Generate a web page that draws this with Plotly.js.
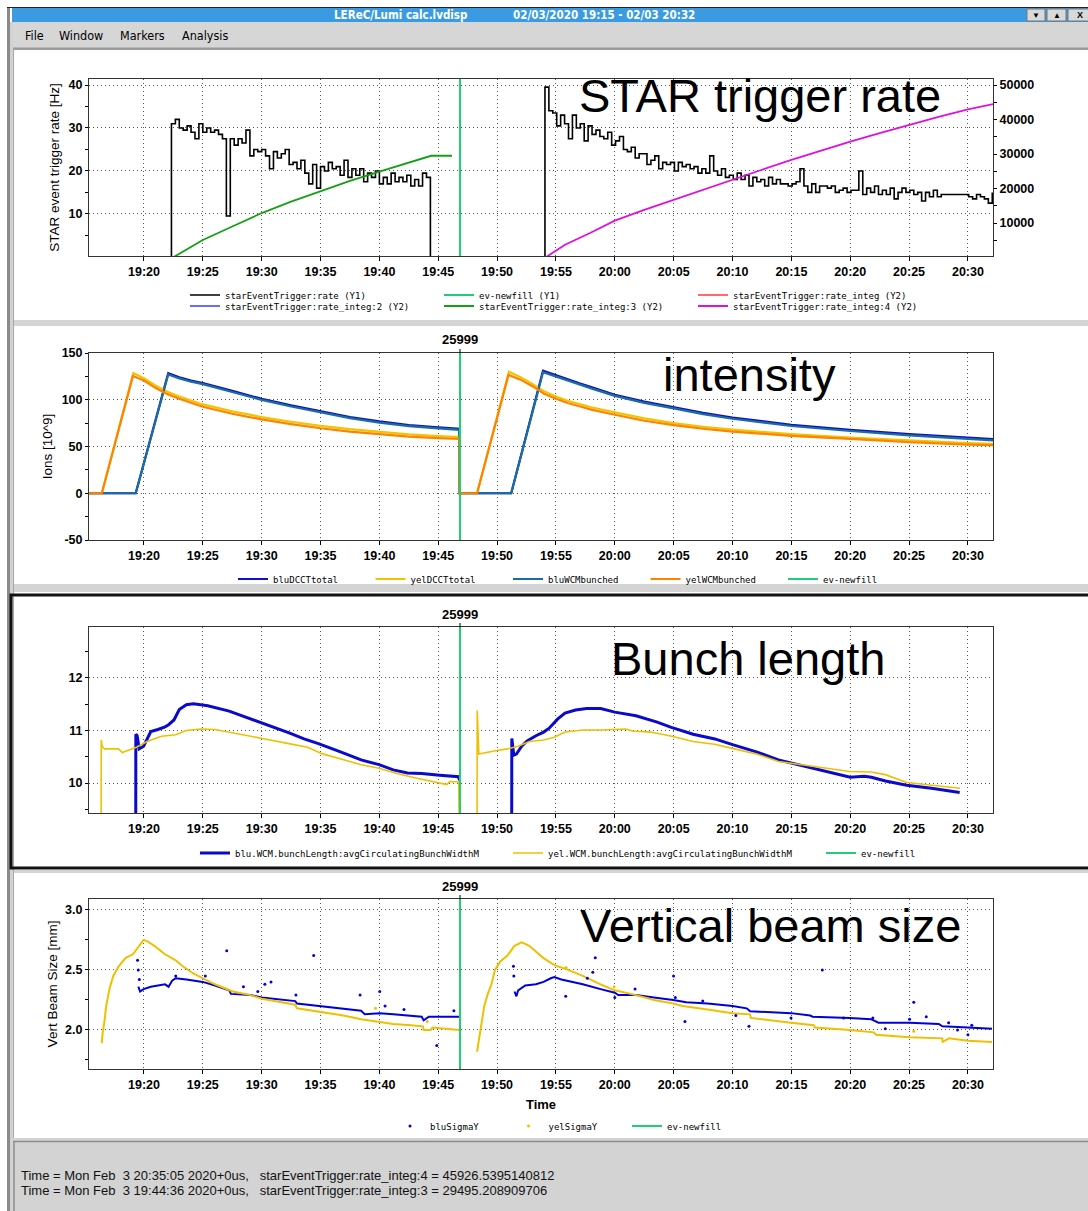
<!DOCTYPE html>
<html><head><meta charset="utf-8">
<script src="https://cdn.plot.ly/plotly-3.0.1.min.js"></script>
<style>html,body{margin:0;padding:0;background:#fff;overflow:hidden}#chart{width:1088px;height:1211px}</style>
</head><body><div id="chart"></div>
<script>
// ===== DATA (times are minutes after 2020-02-03 19:00) =====
const newfillTime = 46.85;
const newfillLabel = '25999';

// STAR trigger rate, sampled every 20 s
const rateStepMin = 1 / 3;
const rate1Start = 22.0;
const rate1Vals = [0,31,32,30,29.5,30.5,29,27.5,31,29,
  30,29,29.5,28.5,27.5,9.5,27.5,26,27.5,26.5,
  29.5,23.5,25,24.5,25,23.5,20.5,24.5,23,24,
  25,21.5,22,20.5,22.5,19.5,17,21.5,16,21,
  20,22,20.5,21,19,22.5,18.5,20.5,19,20.5,
  17.5,19.5,18.5,20,17,18.5,17,19.5,17.5,18.5,
  17.5,19,16.5,18,16.5,19.5,18.5,0,0];
const rate2Start = 53.733;
const rate2Vals = [0,39.5,34,33.5,30.5,33,31,27.5,33,30,
  31,27,30.5,28.5,29.5,28,27.5,29,26,27,
  28,25,24.5,25.5,23,24,24,21.5,22.5,23.5,
  20.5,22,21.5,22,20,22,21,21.5,20.5,21,
  19.5,20.5,19.5,23.5,20,19,20.5,18.5,19,18,
  19.5,18,19,16.5,18.5,17.5,18,16.5,18.5,17,
  18,17,17,16.5,17,17.5,20.5,16.5,15,17,
  15,16.5,16.5,16,16.5,15,15.5,16,15,15.5,
  15.5,20,14.5,16,15,16.5,14.5,15.5,14.5,16,
  13.5,15,16,15,15.5,14.5,15,13,15,14,
  15.5,14,14.5,14.5,14.5,14.5,14.5,14.5,14.5,14,
  13.5,14.5,14,13.5,12.5,15];

// integrated rates (Y2); rate_integ and rate_integ:2 have no samples in this window
const integ3T = [22.45,23.5,25,27.5,30,32.5,35,37.5,40,42.5,44.4,46.17];
const integ3V = [0,2000,5100,9000,12900,16200,19200,22200,24900,27600,29495,29495];
const integ4T = [54.1,55.77,57.9,60,62.5,65,67.5,70,72.5,75,77.5,80,82.5,85,87.5,90,92.13];
const integ4V = [0,3700,7100,10700,13800,16750,19700,22500,25450,28300,31000,33600,36050,38450,40750,42950,44450];
const integEmptyT = [0];
const integEmptyV = [0];

// intensity [10^9]
const bluT = [15.33,19.3,22.06,23,24,25,27.5,30,32.5,35,37.5,40,42.5,45,46.8,46.8,51.2,53.9,55,56,57,58,60,62.5,65,67.5,70,75,80,85,90,92.13];
const bluDCCT = [0,0,128.5,124,120.5,117.9,109.5,101,94,87.5,81.5,76.8,73,70.5,69,0,0,131,126,121.5,117.5,113.5,105.4,98,92,86,81,73.2,67.9,63.2,59.5,57.9];
const bluWCM = [0,0,127,122.8,119.3,116.7,108.3,99.8,92.8,86.3,80.3,75.6,71.8,69.3,67.8,0,0,129.5,124.7,120.2,116.2,112.2,104.1,96.7,90.7,84.7,79.7,71.9,66.6,61.9,58.2,56.6];
const yelDCCTT = [15.33,16.42,19.1,20,21,22,23,24,25,27.5,30,32.5,35,37.5,40,42.5,45,46.8,46.8,48.3,51.0,52,53,54,55,56,57,58,60,62.5,65,67.5,70,75,80,85,90,92.13];
const yelDCCT = [0,0,128.5,123,115,108.5,103.5,99,95,87.5,81.5,76.5,72,68.5,65.5,63,61,60,0,0,130,124,117,109,103.5,99,95.5,92,86.5,80,75,71,68,63.2,59.6,56.4,53.6,52.9];
const yelWCMT = [15.33,16.42,19.06,20,21,22,23,24,25,27.5,30,32.5,35,37.5,40,42.5,45,46.8,46.8,48.3,50.97,52,53,54,55,56,57,58,60,62.5,65,67.5,70,75,80,85,90,92.13];
const yelWCM = [0,0,125.5,120.5,112.5,106,101,96.5,92.5,85,79,74,69.5,66,63,60.5,59,58,0,0,126.5,121.5,114.5,106.5,101,96.5,93,89.5,84,77.5,72.9,69,66,61.4,58.2,54.6,52,51.4];

// bunch length
const bluBLT = [19.3,19.31,19.42,19.6,19.97,20.58,21.18,21.79,22.09,22.55,23.0,23.6,24.2,25.42,27.24,28.45,29.67,30.88,32.39,33.6,34.82,36.64,38.45,39.97,41.18,42.39,43.6,45.12,46.73,46.8,48,51.24,51.25,51.42,51.64,52.09,52.55,53.3,53.95,54.4,55.16,55.77,56.67,57.6,58.8,60,61.8,63.6,64.8,66.65,68.5,70,72.1,73.9,75.7,77.8,80,81.2,81.8,83,84.8,86.9,89.3];
const bluBLV = [9.0,10.93,10.9,10.65,10.7,10.98,11.02,11.07,11.11,11.2,11.4,11.49,11.51,11.47,11.37,11.27,11.17,11.08,10.95,10.84,10.75,10.6,10.44,10.35,10.25,10.19,10.18,10.15,10.12,10.05,null,9.0,10.85,10.53,10.55,10.7,10.8,10.9,10.97,11.04,11.22,11.33,11.39,11.42,11.42,11.35,11.28,11.16,11.06,10.93,10.84,10.73,10.59,10.44,10.34,10.22,10.11,10.13,10.11,10.04,9.96,9.9,9.82];
const yelBLT = [16.36,16.37,16.45,16.64,17.85,18.15,19.36,20.27,21.48,22.7,23.6,24.82,26.03,27.55,29.06,30.27,32.09,33.9,35.12,36.94,38.45,39.97,41.48,43.0,44.52,45.73,45.97,46.73,46.8,47.5,48.3,48.31,48.45,49.06,49.97,50.88,51.79,52.74,53.95,54.86,55.77,57.28,58.79,60.91,61.5,63.02,64.84,66.65,68.47,69.98,72.1,73.91,75.72,77.84,79.96,81.77,82.98,84.8,86.91,89.33];
const yelBLV = [9.0,10.82,10.7,10.65,10.65,10.58,10.68,10.79,10.89,10.92,11.0,11.03,11.02,10.96,10.89,10.84,10.76,10.68,10.56,10.44,10.35,10.28,10.18,10.1,10.02,9.97,10.03,10.02,9.0,null,9.0,11.38,10.55,10.58,10.62,10.65,10.7,10.79,10.82,10.87,10.97,11.01,11.01,11.03,10.99,10.97,10.89,10.79,10.74,10.66,10.55,10.41,10.35,10.28,10.22,10.21,10.16,10.01,9.96,9.9];

// vertical beam size [mm]
const yelSigT = [16.42,16.48,16.64,16.79,17.09,17.39,17.85,18.45,19.06,19.36,19.67,19.97,20.27,20.88,21.79,22.7,23.3,24.2,25.0,26.03,27.55,29.06,30.0,32.09,32.85,33.0,35.03,36.94,38.45,40.03,41.18,42.7,43.7,43.76,44.36,44.52,46.79,47.5,48.3,48.45,48.6,48.76,48.91,49.21,49.52,49.82,50.27,50.88,51.48,52.09,52.74,53.91,54.86,55.77,57.28,58.79,60,61.81,63.32,64.97,65.76,67.88,70,71.5,71.55,74.97,76.9,77.0,79.96,82.0,82.2,85.04,87.83,87.85,88.4,90.0,92.05];
const yelSigV = [1.89,1.97,2.07,2.2,2.35,2.45,2.53,2.6,2.63,2.67,2.72,2.75,2.74,2.7,2.63,2.58,2.53,2.47,2.43,2.38,2.32,2.29,2.26,2.22,2.21,2.18,2.15,2.12,2.09,2.07,2.05,2.04,2.03,2.0,2.0,2.02,2.0,null,1.82,1.92,2.0,2.1,2.2,2.3,2.38,2.5,2.57,2.62,2.7,2.73,2.7,2.6,2.54,2.51,2.45,2.38,2.33,2.29,2.25,2.22,2.2,2.17,2.14,2.13,2.1,2.06,2.04,2.02,2.0,1.98,1.96,1.94,1.93,1.9,1.93,1.91,1.9];
const bluSigT = [19.52,19.67,19.97,20.58,21.79,22.09,22.39,22.7,23.6,25.0,26.03,27.24,27.39,29.06,30.0,32.09,32.85,33.0,35.03,36.94,38.45,38.76,40.03,41.18,42.7,43.6,43.76,44.2,46.79,49,51.48,51.64,51.79,52.39,53.3,53.95,54.56,54.86,55.46,57.28,58.79,60,60.3,61.81,63.32,64.97,66.06,67.88,70,71.2,71.5,74.97,76.6,76.8,79.96,81.77,82.4,85.04,87.52,87.83,90.0,92.05];
const bluSigV = [2.36,2.32,2.34,2.36,2.38,2.36,2.41,2.43,2.42,2.4,2.37,2.33,2.3,2.29,2.27,2.25,2.24,2.22,2.2,2.18,2.16,2.13,2.14,2.13,2.12,2.11,2.08,2.11,2.11,null,2.32,2.28,2.33,2.37,2.38,2.4,2.43,2.44,2.42,2.38,2.34,2.31,2.29,2.29,2.27,2.25,2.23,2.22,2.2,2.18,2.155,2.14,2.12,2.11,2.1,2.09,2.06,2.06,2.05,2.03,2.02,2.01];
const bluOutT = [19.455,19.515,19.606,22.70,25.21,27.03,28.45,29.67,30.27,30.79,32.91,34.42,38.36,40.03,40.48,42.09,44.88,46.33,51.39,51.42,55.83,57.67,58.13,58.34,60.0,61.72,64.99,65.14,65.96,67.47,70.28,71.4,74.97,77.63,79.44,81.92,82.98,85.04,85.4,86.46,88.36,89.12,90.0,90.33];
const bluOutV = [2.58,2.5,2.42,2.45,2.45,2.66,2.36,2.32,2.38,2.4,2.29,2.62,2.29,2.32,2.2,2.17,1.87,2.16,2.53,2.45,2.28,2.43,2.48,2.6,2.27,2.34,2.45,2.27,2.07,2.24,2.12,2.03,2.1,2.5,2.1,2.1,2.01,2.09,2.23,2.11,2.06,2.0,1.96,2.04];
const yelOutT = [39.67,44.06,55.86,59.94,85.4];
const yelOutV = [2.18,2.07,2.52,2.36,1.99];

// tick labels of the intensity axis
const ionTickVals = [-50,0,50,100,150];
const ionTickText = ['-50','0','50','100','150'];

// ===== helpers =====
const T0 = Date.UTC(2020, 1, 3, 19, 0, 0);
const tm = m => T0 + m * 60000;
const W = 1088, H = 1211;
const px = x => x / W, py = y => 1 - y / H;
const stepTimes = (start, n) => Array.from({length:n}, (_, i) => tm(start + i * rateStepMin));

const y1Range = [0.2, 41.4], y2Range = [450, 51740], ionRange = [-50, 150], blRange = [9.43, 12.97], sigRange = [1.675, 3.09];
const xRange = [tm(15.33), tm(92.13)];
const NF = '#1fcf74';
const SANS = 'Liberation Sans, Arial, sans-serif';
const MONO = 'DejaVu Sans Mono, Liberation Mono, monospace';

const rateX = stepTimes(rate1Start, rate1Vals.length).concat([tm(50)], stepTimes(rate2Start, rate2Vals.length));
const rateY = rate1Vals.concat([null], rate2Vals);
const nfx = [tm(newfillTime), tm(newfillTime)];

const traces = [
  // panel 1
  {x: rateX, y: rateY, mode:'lines', line:{shape:'hv', color:'#000', width:1.6}, name:'starEventTrigger:rate (Y1)', legend:'legend', xaxis:'x', yaxis:'y'},
  {x: nfx, y: y1Range, mode:'lines', line:{color:NF, width:2}, name:'ev-newfill (Y1)', legend:'legend', xaxis:'x', yaxis:'y'},
  {x: integEmptyT.map(tm), y: integEmptyV, mode:'lines', line:{color:'#ff6a6a', width:2}, name:'starEventTrigger:rate_integ (Y2)', legend:'legend', xaxis:'x', yaxis:'y2'},
  {x: integEmptyT.map(tm), y: integEmptyV, mode:'lines', line:{color:'#6b6bff', width:2}, name:'starEventTrigger:rate_integ:2 (Y2)', legend:'legend2', xaxis:'x', yaxis:'y2'},
  {x: integ3T.map(tm), y: integ3V, mode:'lines', line:{color:'#14a014', width:1.8}, name:'starEventTrigger:rate_integ:3 (Y2)', legend:'legend2', xaxis:'x', yaxis:'y2'},
  {x: integ4T.map(tm), y: integ4V, mode:'lines', line:{color:'#dd11dd', width:1.8}, name:'starEventTrigger:rate_integ:4 (Y2)', legend:'legend2', xaxis:'x', yaxis:'y2'},
  // panel 2
  {x: bluT.map(tm), y: bluDCCT, mode:'lines', line:{color:'#1010cc', width:2.2}, name:'bluDCCTtotal', legend:'legend3', xaxis:'x2', yaxis:'y3'},
  {x: yelDCCTT.map(tm), y: yelDCCT, mode:'lines', line:{color:'#f2c400', width:2.2}, name:'yelDCCTtotal', legend:'legend3', xaxis:'x2', yaxis:'y3'},
  {x: bluT.map(tm), y: bluWCM, mode:'lines', line:{color:'#1a6e9c', width:2.2}, name:'bluWCMbunched', legend:'legend3', xaxis:'x2', yaxis:'y3'},
  {x: yelWCMT.map(tm), y: yelWCM, mode:'lines', line:{color:'#ff8200', width:2.2}, name:'yelWCMbunched', legend:'legend3', xaxis:'x2', yaxis:'y3'},
  {x: nfx, y: ionRange, mode:'lines', line:{color:NF, width:2}, name:'ev-newfill', legend:'legend3', xaxis:'x2', yaxis:'y3'},
  // panel 3
  {x: bluBLT.map(tm), y: bluBLV, mode:'lines', line:{color:'#0a0acc', width:3}, name:'blu.WCM.bunchLength:avgCirculatingBunchWidthM', legend:'legend4', xaxis:'x3', yaxis:'y4'},
  {x: yelBLT.map(tm), y: yelBLV, mode:'lines', line:{color:'#f0c000', width:1.6}, name:'yel.WCM.bunchLength:avgCirculatingBunchWidthM', legend:'legend4', xaxis:'x3', yaxis:'y4'},
  {x: nfx, y: blRange, mode:'lines', line:{color:NF, width:2}, name:'ev-newfill', legend:'legend4', xaxis:'x3', yaxis:'y4'},
  // panel 4
  {x: bluSigT.map(tm), y: bluSigV, mode:'lines', line:{color:'#0000dd', width:2}, showlegend:false, xaxis:'x4', yaxis:'y5'},
  {x: yelSigT.map(tm), y: yelSigV, mode:'lines', line:{color:'#f0c000', width:2}, showlegend:false, xaxis:'x4', yaxis:'y5'},
  {x: bluOutT.map(tm), y: bluOutV, mode:'markers', marker:{color:'#0000dd', size:3}, name:'bluSigmaY', legend:'legend5', xaxis:'x4', yaxis:'y5'},
  {x: yelOutT.map(tm), y: yelOutV, mode:'markers', marker:{color:'#f0c000', size:3}, name:'yelSigmaY', legend:'legend5', xaxis:'x4', yaxis:'y5'},
  {x: nfx, y: sigRange, mode:'lines', line:{color:NF, width:2}, name:'ev-newfill', legend:'legend5', xaxis:'x4', yaxis:'y5'}
];

const tickFont = {family:SANS, size:12.5, weight:'bold', color:'#000'};
const titleFont = {family:SANS, size:13.5, color:'#000'};
const xBase = {type:'date', range:xRange, domain:[px(89), px(993)], tickformat:'%H:%M', dtick:300000, tick0:tm(0),
  ticks:'outside', ticklen:4, tickcolor:'#000', tickwidth:1, showgrid:true, gridcolor:'#555', griddash:'1px,3px', gridwidth:1,
  showline:true, linecolor:'#333', linewidth:1, mirror:true, zeroline:false, tickfont:tickFont, automargin:false, fixedrange:true};
const yBase = {ticks:'outside', ticklen:3, tickcolor:'#000', tickwidth:1, showgrid:true, gridcolor:'#555', griddash:'1px,3px', gridwidth:1,
  showline:true, linecolor:'#333', linewidth:1, mirror:true, zeroline:false, tickfont:tickFont, automargin:false, fixedrange:true};
const minor = d => ({dtick:d, ticks:'outside', ticklen:3, tickcolor:'#000', showgrid:false});

function rect(x0, y0, x1, y1, fill, lc, lw) {
  return {type:'rect', xref:'paper', yref:'paper', x0:px(x0), x1:px(x1), y0:py(y1), y1:py(y0),
    fillcolor: fill || 'rgba(0,0,0,0)', line:{color: lc || 'rgba(0,0,0,0)', width: lw || 0}, layer:'below'};
}
function seg(x0, y0, x1, y1, c, w) {
  return {type:'line', xref:'paper', yref:'paper', x0:px(x0), x1:px(x1), y0:py(y0), y1:py(y1), line:{color:c, width:w}, layer:'below'};
}
function txt(x, y, s, font, xa, ya) {
  return {xref:'paper', yref:'paper', x:px(x), y:py(y), text:s, showarrow:false, font:font, xanchor:xa || 'center', yanchor:ya || 'middle'};
}
const nb = s => s.replace(/ {2,}/g, m => '\u00a0'.repeat(m.length));

const shapes = [
  seg(7, 7.5, 1088, 7.5, '#222', 1),
  rect(12, 8, 1088, 22, '#3a9be2'),
  rect(1027, 9, 1045, 21, '#d9d9d9', '#777', 1),
  rect(1047, 9, 1066, 21, '#d9d9d9', '#777', 1),
  rect(1068, 9, 1092, 21, '#d9d9d9', '#777', 1),
  rect(12, 22, 1088, 48, '#d6d6d6'),
  rect(12, 47.5, 1088, 50, '#9b9b9b'),
  rect(7, 8, 10, 1211, '#8a8a8a'),
  rect(10, 22, 13, 1211, '#d2d2d2'),
  rect(13, 50, 14, 1140, '#a8a8a8'),
  rect(14, 320, 1088, 326, '#d4d4d4'),
  rect(14, 584, 1088, 592, '#d4d4d4'),
  rect(11, 595, 1092, 868, null, '#111', 3),
  rect(14, 870, 1088, 873, '#d4d4d4'),
  rect(13, 1138, 1088, 1211, '#d3d3d3'),
  seg(13, 1141.5, 1088, 1141.5, '#8c8c8c', 1.5),
  seg(14, 1141.5, 14, 1211, '#8c8c8c', 1.5)
];

const bigFont = {family:SANS, size:47, color:'#000'};
const menuFont = {family:'DejaVu Sans Condensed, DejaVu Sans, sans-serif', size:12.5, color:'#000'};
const barFont = {family:'DejaVu Sans Condensed, DejaVu Sans, sans-serif', size:11.5, weight:'bold', color:'#fff'};
const statFont = {family:SANS, size:13, color:'#111'};
const labelAnn = (xa, ya) => ({xref:xa, yref:ya + ' domain', x:tm(newfillTime), y:1, text:newfillLabel, showarrow:true,
  arrowhead:0, arrowwidth:1, arrowcolor:'#000', ax:0, ay:-13, font:{family:SANS, size:13, weight:'bold', color:'#000'}});

const annotations = [
  txt(400, 15, 'LEReC/Lumi calc.lvdisp', barFont),
  txt(604, 15, '02/03/2020 19:15 - 02/03 20:32', barFont),
  txt(1036, 15, '\u25BC', {family:SANS, size:8, color:'#000'}),
  txt(1056.5, 15, '\u25B2', {family:SANS, size:8, color:'#000'}),
  txt(1080, 15, 'X', {family:SANS, size:9, weight:'bold', color:'#000'}),
  txt(23, 35, 'File', menuFont, 'left'),
  txt(57, 35, 'Window', menuFont, 'left'),
  txt(118, 35, 'Markers', menuFont, 'left'),
  txt(180, 35, 'Analysis', menuFont, 'left'),
  txt(760, 95.7, 'STAR trigger rate', bigFont),
  txt(749, 374.7, 'intensity', bigFont),
  txt(747.5, 658.7, 'Bunch length', bigFont),
  txt(770, 925.7, 'Vertical beam size', bigFont),
  txt(19, 1175, nb('Time = Mon Feb  3 20:35:05 2020+0us,   starEventTrigger:rate_integ:4 = 45926.5395140812'), statFont, 'left'),
  txt(19, 1190, nb('Time = Mon Feb  3 19:44:36 2020+0us,   starEventTrigger:rate_integ:3 = 29495.208909706'), statFont, 'left'),
  labelAnn('x2', 'y3'), labelAnn('x3', 'y4'), labelAnn('x4', 'y5')
];

const legBase = {orientation:'h', traceorder:'normal', bgcolor:'rgba(0,0,0,0)', borderwidth:0, font:{family:MONO, size:9, color:'#000'},
  xanchor:'left', yanchor:'middle', xref:'paper', yref:'paper', entrywidthmode:'pixels', itemclick:false, itemdoubleclick:false};

const layout = {
  width:W, height:H, autosize:false,
  margin:{l:0, r:0, t:0, b:0, pad:0, autoexpand:false},
  paper_bgcolor:'#fff', plot_bgcolor:'#fff',
  showlegend:true,
  xaxis: Object.assign({}, xBase, {anchor:'y'}),
  yaxis: Object.assign({}, yBase, {domain:[py(256), py(79)], range:y1Range, dtick:10, tick0:0, anchor:'x', minor:minor(5),
    title:{text:'STAR event trigger rate [Hz]', font:titleFont, standoff:5}}),
  yaxis2: Object.assign({}, yBase, {overlaying:'y', side:'right', anchor:'x', range:y2Range, dtick:10000, tick0:0, showgrid:false,
    tickformat:'d', mirror:false, minor:minor(5000)}),
  xaxis2: Object.assign({}, xBase, {anchor:'y3'}),
  yaxis3: Object.assign({}, yBase, {domain:[py(540), py(353)], range:ionRange, tickmode:'array', tickvals:ionTickVals, ticktext:ionTickText,
    anchor:'x2', minor:{tickmode:'linear', tick0:-50, dtick:25, ticks:'outside', ticklen:3, tickcolor:'#000', showgrid:false},
    title:{text:'Ions [10^9]', font:titleFont, standoff:5}}),
  xaxis3: Object.assign({}, xBase, {anchor:'y4'}),
  yaxis4: Object.assign({}, yBase, {domain:[py(813), py(627)], range:blRange, dtick:1, tick0:0, anchor:'x3', minor:minor(0.5)}),
  xaxis4: Object.assign({}, xBase, {anchor:'y5', title:{text:'Time', font:{family:SANS, size:13, weight:'bold', color:'#000'}, standoff:8}}),
  yaxis5: Object.assign({}, yBase, {domain:[py(1069), py(899)], range:sigRange, dtick:0.5, tick0:0, tickformat:'.1f', anchor:'x4', minor:minor(0.25),
    title:{text:'Vert Beam Size [mm]', font:titleFont, standoff:4}}),
  legend: Object.assign({}, legBase, {x:px(185), y:py(295), entrywidth:209}),
  legend2: Object.assign({}, legBase, {x:px(185), y:py(306), entrywidth:209}),
  legend3: Object.assign({}, legBase, {x:px(233), y:py(579), entrywidth:92.5}),
  legend4: Object.assign({}, legBase, {x:px(195), y:py(853), entrywidth:268}),
  legend5: Object.assign({}, legBase, {x:px(390), y:py(1126), entrywidth:73.5}),
  shapes: shapes,
  annotations: annotations
};

Plotly.newPlot('chart', traces, layout, {displayModeBar:false, staticPlot:true});
</script>
</body></html>
